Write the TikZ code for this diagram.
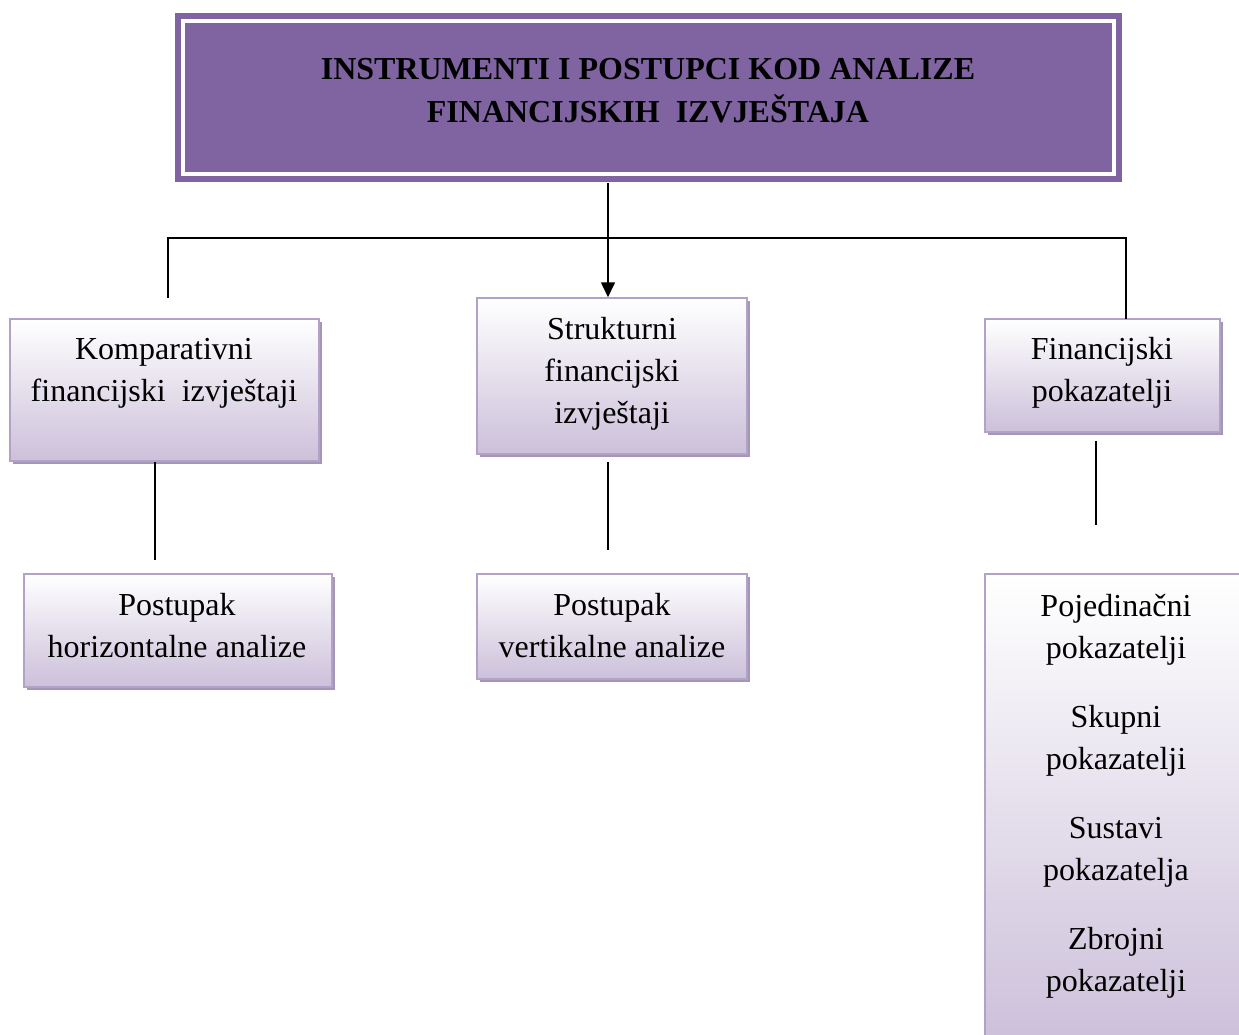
\documentclass[tikz,border=0pt]{standalone}
\usepackage{fontspec}
\setmainfont{Liberation Serif}
\usetikzlibrary{positioning,arrows.meta,shadows}
\definecolor{titlepurple}{HTML}{8064A2}
\definecolor{boxline}{HTML}{B3A2C7}
\definecolor{boxlow}{HTML}{CCC0DA}
\definecolor{boxshadow}{HTML}{A497B6}

\begin{document}
\begin{tikzpicture}[x=1pt,y=-1pt,>={Triangle[length=15pt,width=14pt]},line width=1.6pt,
 box/.style={rectangle,draw=boxline,line width=1.5pt,top color=white,bottom color=boxlow,
   general shadow={fill=boxshadow,shadow xshift=3pt,shadow yshift=-3pt}},
 txt/.style={align=center,inner sep=0pt,font=\fontsize{32}{42}\selectfont},
 ]
 \useasboundingbox (0,0) rectangle (1239,1034);
 \clip (0,0) rectangle (1239,1034);

 % title
 \node[fill=titlepurple,minimum width=947,minimum height=169] (title) at (648.5,97.5) {};
 \draw[white,line width=3.5pt] ([shift={(9,9)}]title.north west) rectangle ([shift={(-9,-9)}]title.south east);
 \node[txt,font=\bfseries\fontsize{32}{43}\selectfont] (titletext) at (648,91)
   {INSTRUMENTI I POSTUPCI KOD ANALIZE\\FINANCIJSKIH~ IZVJEŠTAJA};

 % first level
 \node[box,minimum width=309,minimum height=142] (komp) at (164.5,390) {};
 \node[txt] (komptext) at (164,373.5) {Komparativni\\financijski~ izvještaji};

 \node[box,minimum width=270,minimum height=156] (strukt) at (612,376) {};
 \node[txt] (strukttext) at (612,373.5) {Strukturni\\financijski\\izvještaji};

 \node[box,minimum width=235,minimum height=113] (financ) at (1102.5,375.5) {};
 \node[txt] (financtext) at (1102,373) {Financijski\\pokazatelji};

 % second level
 \node[box,minimum width=308,minimum height=113] (horiz) at (178,630.5) {};
 \node[txt] (horiztext) at (177,626) {Postupak\\horizontalne analize};

 \node[box,minimum width=270,minimum height=105] (vert) at (612,626.5) {};
 \node[txt] (verttext) at (612,626) {Postupak\\vertikalne analize};

 \node[box,minimum width=265,minimum height=471] (lista) at (1117.5,809.5) {};
 \node[txt] (listatext) at (1116,796) {Pojedinačni\\pokazatelji\\[27pt]Skupni\\pokazatelji\\[27pt]Sustavi\\pokazatelja\\[27pt]Zbrojni\\pokazatelji};

 % connectors
 \coordinate (komptop) at (168,298);
 \coordinate (fintop) at (1126,319);
 \coordinate (bar) at (0,238);
 \draw (komptop) |- (bar -| fintop) -- (fintop);
 \draw[->] (title.south -| 608,0) -- (strukt.north -| 608,0);

 \coordinate (komplow) at (155,560);
 \coordinate (struktlow) at (608,550);
 \coordinate (finlow) at (1096,525);
 \draw (komp.south -| komplow) -- (komplow);
 \draw ([yshift=-7pt]strukt.south -| struktlow) -- (struktlow);
 \draw ([yshift=-8pt]financ.south -| finlow) -- (finlow);

\end{tikzpicture}
\end{document}
